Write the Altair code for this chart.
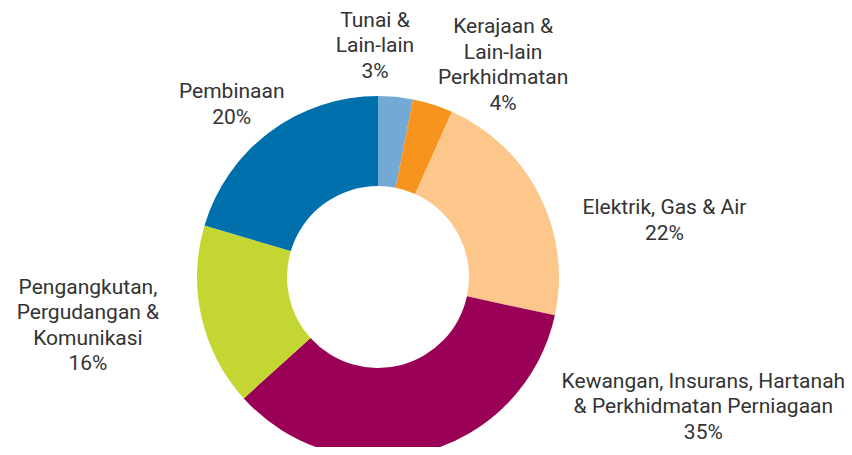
import math
import altair as alt
import pandas as pd

# Data
categories = [
    "Tunai & Lain-lain",
    "Kerajaan & Lain-lain Perkhidmatan",
    "Elektrik, Gas & Air",
    "Kewangan, Insurans, Hartanah & Perkhidmatan Perniagaan",
    "Pengangkutan, Pergudangan & Komunikasi",
    "Pembinaan",
]
values = [3.1, 3.6, 21.7, 34.9, 16.3, 20.4]
label_lines = [
    ["Tunai &", "Lain-lain", "3%"],
    ["Kerajaan &", "Lain-lain", "Perkhidmatan", "4%"],
    ["Elektrik, Gas & Air", "22%"],
    ["Kewangan, Insurans, Hartanah", "& Perkhidmatan Perniagaan", "35%"],
    ["Pengangkutan,", "Pergudangan &", "Komunikasi", "16%"],
    ["Pembinaan", "20%"],
]
colors = ["#72a9d5", "#f7941d", "#fdc78b", "#9b0057", "#c3d631", "#0070ac"]

# Layout (label placement, polar: degrees clockwise from north, radius px)
label_angle_deg = [359.5, 30.7, 78.8, 111.6, 260.6, 320.0]
label_radius = [232, 247, 293, 351, 293, 226]
CX, CY = 370, 269
R_OUT, R_IN = 181, 91
LINE_H = 25.5

df = pd.DataFrame({
    "category": categories,
    "value": values,
    "idx": list(range(len(categories))),
})

arcs = alt.Chart(df).mark_arc(outerRadius=R_OUT, innerRadius=R_IN).encode(
    theta=alt.Theta("value:Q", stack=True),
    color=alt.Color("category:N", scale=alt.Scale(domain=categories, range=colors), legend=None),
    order=alt.Order("idx:Q"),
    x=alt.value(CX),
    y=alt.value(CY),
)

layers = [arcs]
for i, cat in enumerate(categories):
    n = len(label_lines[i])
    t = alt.Chart(df).transform_filter(alt.datum.idx == i).mark_text(
        font="Roboto",
        fontSize=21,
        color="#333333",
        align="center",
        baseline="middle",
        lineHeight=LINE_H,
        dy=-(n - 1) * LINE_H / 2,
        text=label_lines[i],
    ).encode(
        x=alt.value(CX - 1),
        y=alt.value(CY + 1),
        theta=alt.value(math.radians(label_angle_deg[i])),
        radius=alt.value(label_radius[i]),
    )
    layers.append(t)

chart = alt.layer(*layers).properties(
    width=836,
    height=439,
    padding=0,
    autosize=alt.AutoSizeParams(type="fit", contains="padding"),
).configure_view(stroke=None)

chart.save("out.html", embed_options={"renderer": "svg", "actions": False})
